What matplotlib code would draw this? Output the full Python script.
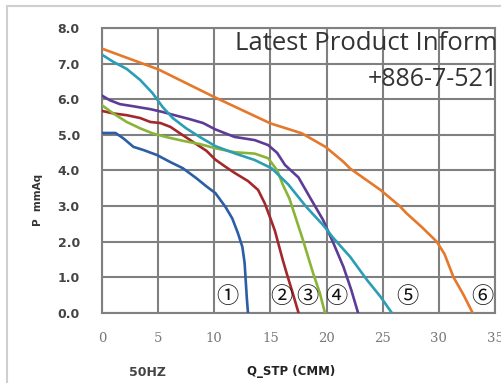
import numpy as np
import matplotlib
matplotlib.use('Agg')
import matplotlib.pyplot as plt
from matplotlib.patches import Rectangle

# curve data (Q in CMM, P in mmAq)
q1 = [0, 1.2, 1.9, 2.8, 3.7, 4.9, 6.1, 7.2, 8.4, 9.3, 10.1, 11.0, 11.6, 12.1, 12.5, 12.7, 12.8, 12.9, 13.0]
p1 = [5.05, 5.05, 4.9, 4.66, 4.57, 4.43, 4.23, 4.06, 3.78, 3.55, 3.36, 2.97, 2.65, 2.24, 1.85, 1.4, 0.9, 0.4, 0.0]

q2 = [0, 1.0, 2.2, 3.4, 4.3, 5.2, 6.1, 6.9, 8.1, 9.3, 10.1, 11.0, 11.8, 13.0, 13.9, 14.5, 15.0, 15.4, 16.1, 16.5, 16.9, 17.5]
p2 = [5.67, 5.6, 5.55, 5.47, 5.36, 5.33, 5.22, 5.05, 4.8, 4.55, 4.3, 4.1, 3.93, 3.7, 3.45, 3.07, 2.65, 2.3, 1.48, 1.05, 0.64, 0.0]

q3 = [0, 1.0, 2.2, 3.4, 4.5, 5.8, 7.2, 8.7, 10.1, 11.8, 13.6, 14.8, 15.6, 16.1, 16.7, 17.9, 18.8, 19.4, 19.85]
p3 = [5.83, 5.6, 5.36, 5.18, 5.04, 4.93, 4.83, 4.74, 4.62, 4.51, 4.47, 4.34, 4.0, 3.6, 3.2, 2.04, 1.11, 0.55, 0.0]

q4 = [0, 0.7, 1.6, 2.8, 4.3, 5.4, 6.7, 7.8, 9.0, 10.1, 11.8, 13.6, 14.8, 15.6, 16.3, 17.5, 18.5, 19.7, 20.6, 21.5, 22.2, 22.8]
p4 = [6.1, 5.97, 5.86, 5.8, 5.72, 5.64, 5.53, 5.44, 5.33, 5.15, 4.94, 4.85, 4.71, 4.49, 4.15, 3.8, 3.25, 2.6, 1.96, 1.29, 0.64, 0.0]

q5 = [0, 1.0, 2.2, 3.4, 4.5, 5.4, 6.3, 7.5, 8.7, 10.1, 11.8, 13.6, 15.1, 16.6, 18.2, 19.7, 20.6, 22.1, 23.6, 24.8, 25.8]
p5 = [7.25, 7.05, 6.85, 6.54, 6.17, 5.78, 5.47, 5.18, 4.94, 4.68, 4.48, 4.29, 4.06, 3.6, 2.97, 2.46, 2.1, 1.57, 0.92, 0.45, 0.0]

q6 = [0, 5, 10, 15, 17.8, 19.9, 21.5, 22.1, 24.8, 26.5, 27.1, 28.5, 29.8, 30.5, 31.3, 32.2, 33.0]
p6 = [7.42, 6.84, 6.06, 5.32, 5.04, 4.66, 4.24, 4.05, 3.45, 3.0, 2.8, 2.4, 2.0, 1.65, 1.0, 0.5, 0.0]

curve_labels = ['\u2460', '\u2461', '\u2462', '\u2463', '\u2464', '\u2465']
label_q = [11.2, 16.0, 18.3, 20.9, 27.2, 33.9]
label_p = [0.45, 0.45, 0.45, 0.45, 0.45, 0.45]

colors = ['#2b5ea4', '#a3282b', '#8ab437', '#5c3c97', '#2b9db5', '#e5782a']

fig = plt.figure(figsize=(5.02, 3.83), dpi=100)
fig.patch.set_facecolor('white')

# light outer frame
fig.patches.append(Rectangle((7/502, -0.05), 1.0, 1 - 6/383 + 0.05,
                             transform=fig.transFigure, fill=False,
                             edgecolor='#cfcfcf', linewidth=1.5))

ax = fig.add_axes([102/502, 1 - 312.7/383, 393/502, 284.7/383])

for q, p, c in zip([q1, q2, q3, q4, q5, q6], [p1, p2, p3, p4, p5, p6], colors):
    ax.plot(q, p, color=c, linewidth=1.9, solid_joinstyle='round',
            solid_capstyle='round', zorder=3)

for t, x, y in zip(curve_labels, label_q, label_p):
    ax.text(x, y, t, ha='center', va='center', fontsize=16, color='#111111',
            family=['Noto Sans CJK JP', 'DejaVu Sans'], zorder=4)

ax.set_xlim(0, 35)
ax.set_ylim(0, 8)
ax.set_xticks(np.arange(0, 36, 5))
ax.set_yticks(np.arange(0, 8.1, 1))
ax.set_yticklabels(['%.1f' % v for v in np.arange(0, 8.1, 1)],
                   fontweight='bold', fontsize=9, color='#444444')
ax.set_xticklabels([str(v) for v in range(0, 36, 5)],
                   family='DejaVu Serif', fontsize=9.5, color='#777777')
ax.tick_params(length=0)
ax.tick_params(axis='y', pad=16)
ax.tick_params(axis='x', pad=14)
ax.grid(True, color='#808080', linewidth=1.5)
ax.set_axisbelow(True)
for s in ax.spines.values():
    s.set_color('#808080')
    s.set_linewidth(1.5)

fig.text(38/502, 1 - 200/383, 'P  mmAq', rotation=90, ha='center', va='center',
         fontsize=7.5, fontweight='bold', color='#333333')
fig.text(148/502, 1 - 373/383, '50HZ', ha='center', va='center',
         fontsize=9, fontweight='bold', color='#444444')
fig.text(291/502, 1 - 372/383, 'Q_STP (CMM)', ha='center', va='center',
         fontsize=8.5, fontweight='bold', color='#222222')

# watermark text over the chart
fig.text(235/502, 1 - 44/383, 'Latest Product Inform', ha='left', va='center',
         fontsize=18.5, family='Open Sans', color='#333333', zorder=10)
fig.text(368/502, 1 - 80/383, '+886-7-521', ha='left', va='center',
         fontsize=18, family='Open Sans', color='#333333', zorder=10)

plt.savefig('out.png', dpi=100)
plt.close()
